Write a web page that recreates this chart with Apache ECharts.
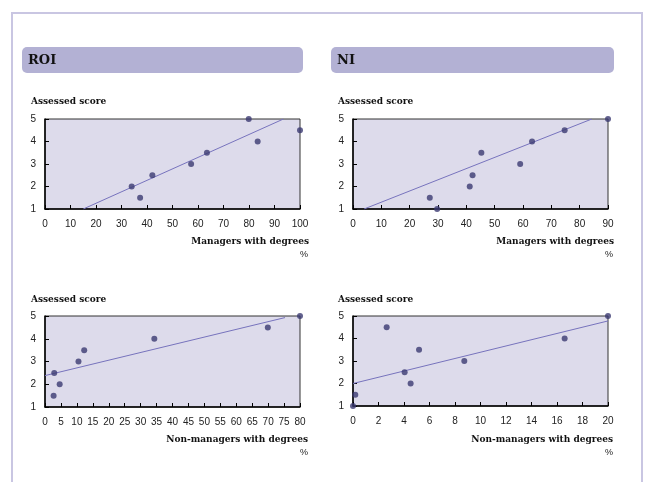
<!DOCTYPE html>
<html>
<head>
<meta charset="utf-8">
<script src="https://cdn.jsdelivr.net/npm/echarts@6/dist/echarts.min.js"></script>
<style>html,body{margin:0;padding:0;background:#fff}#c{width:649px;height:482px}</style>
</head>
<body>
<div id="c"></div>
<script>
// ---- Data ----
var roiMgrX = [34, 37.3, 42.1, 57.3, 63.5, 79.9, 83.4, 100];
var roiMgrY = [2, 1.5, 2.5, 3, 3.5, 5, 4, 4.5];
var roiMgrTrendX = [15, 93.5];
var roiMgrTrendY = [1, 5];

var niMgrX = [27.1, 29.7, 41.2, 42.2, 45.3, 59.0, 63.2, 74.7, 90];
var niMgrY = [1.5, 1, 2, 2.5, 3.5, 3, 4, 4.5, 5];
var niMgrTrendX = [3.9, 84.3];
var niMgrTrendY = [1, 5];

var roiNonX = [2.7, 2.9, 4.6, 10.5, 12.3, 34.3, 69.9, 80];
var roiNonY = [1.5, 2.5, 2, 3, 3.5, 4, 4.5, 5];
var roiNonTrendX = [0, 75.3];
var roiNonTrendY = [2.38, 4.93];

var niNonX = [0, 0.18, 2.64, 4.05, 4.52, 5.18, 8.73, 16.6, 20];
var niNonY = [1, 1.5, 4.5, 2.5, 2, 3.5, 3, 4, 5];
var niNonTrendX = [0, 20];
var niNonTrendY = [2.0, 4.78];

var panelTitles = ['ROI', 'NI'];
var yTitle = 'Assessed score';
var xTitles = ['Managers with degrees', 'Managers with degrees', 'Non-managers with degrees', 'Non-managers with degrees'];
var unitLabel = '%';
var xMax = [100, 90, 80, 20];
var xStep = [10, 10, 5, 2];
var yMin = 1, yMax = 5, yStep = 1;

function zip(a, b) { return a.map(function (v, i) { return [v, b[i]]; }); }

var panels = [
  { x: roiMgrX, y: roiMgrY, tx: roiMgrTrendX, ty: roiMgrTrendY },
  { x: niMgrX, y: niMgrY, tx: niMgrTrendX, ty: niMgrTrendY },
  { x: roiNonX, y: roiNonY, tx: roiNonTrendX, ty: roiNonTrendY },
  { x: niNonX, y: niNonY, tx: niNonTrendX, ty: niNonTrendY }
];

var gridPos = [
  { left: 45, top: 119, width: 255, height: 90 },
  { left: 353, top: 119, width: 255, height: 90 },
  { left: 45, top: 316, width: 255, height: 91 },
  { left: 353, top: 316, width: 255, height: 90 }
];

var serif = '"DejaVu Serif", serif';
var sans = '"Liberation Sans", Arial, sans-serif';

var grids = [], xAxes = [], yAxes = [], series = [];
gridPos.forEach(function (g, i) {
  grids.push({ left: g.left, top: g.top, width: g.width, height: g.height, show: true,
    backgroundColor: '#dddbeb', borderColor: '#333', borderWidth: 1, containLabel: false });
  xAxes.push({ type: 'value', gridIndex: i, min: 0, max: xMax[i], interval: xStep[i],
    axisLine: { show: true, onZero: false, lineStyle: { color: '#000', width: 1.5 } },
    axisTick: { show: true, inside: true, length: 4, lineStyle: { color: '#000' } },
    axisLabel: { color: '#222', fontFamily: sans, fontSize: 10, margin: 10 },
    splitLine: { show: false } });
  yAxes.push({ type: 'value', gridIndex: i, min: yMin, max: yMax, interval: yStep,
    axisLine: { show: true, onZero: false, lineStyle: { color: '#000', width: 1.5 } },
    axisTick: { show: true, inside: true, length: 4, lineStyle: { color: '#000' } },
    axisLabel: { color: '#222', fontFamily: sans, fontSize: 10, margin: 9 },
    splitLine: { show: false } });
  var p = panels[i];
  series.push({ type: 'line', xAxisIndex: i, yAxisIndex: i, data: zip(p.tx, p.ty),
    symbol: 'none', lineStyle: { color: '#7773bd', width: 1 }, silent: true, z: 2 });
  series.push({ type: 'scatter', xAxisIndex: i, yAxisIndex: i, data: zip(p.x, p.y),
    symbolSize: 6, clip: false, itemStyle: { color: '#3b3a72' }, z: 3 });
});

var graphics = [
  { type: 'rect', shape: { x: 12, y: 13, width: 630, height: 480 },
    style: { fill: 'none', stroke: '#c9c6e2', lineWidth: 2 }, silent: true },
  { type: 'rect', shape: { x: 22, y: 47, width: 281, height: 26, r: 5 },
    style: { fill: '#b3b1d4' }, silent: true },
  { type: 'rect', shape: { x: 331, y: 47, width: 283, height: 26, r: 5 },
    style: { fill: '#b3b1d4' }, silent: true },
  { type: 'text', x: 28, y: 61, style: { text: panelTitles[0], font: 'bold 13px ' + serif, fill: '#111', verticalAlign: 'middle' } },
  { type: 'text', x: 337, y: 61, style: { text: panelTitles[1], font: 'bold 13px ' + serif, fill: '#111', verticalAlign: 'middle' } }
];
var yTitlePos = [[31, 102], [338, 102], [31, 300], [338, 300]];
var xTitlePos = [[309, 242], [614, 242], [308, 440], [613, 440]];
var unitPos = [[308, 255], [613, 255], [308, 453], [613, 453]];
for (var i = 0; i < 4; i++) {
  graphics.push({ type: 'text', x: yTitlePos[i][0], y: yTitlePos[i][1],
    style: { text: yTitle, font: 'bold 9px ' + serif, fill: '#111', verticalAlign: 'middle' } });
  graphics.push({ type: 'text', x: xTitlePos[i][0], y: xTitlePos[i][1],
    style: { text: xTitles[i], font: 'bold 9px ' + serif, fill: '#111', align: 'right', verticalAlign: 'middle' } });
  graphics.push({ type: 'text', x: unitPos[i][0], y: unitPos[i][1],
    style: { text: unitLabel, font: '9px ' + sans, fill: '#222', align: 'right', verticalAlign: 'middle' } });
}

var chart = echarts.init(document.getElementById('c'), null, { renderer: 'canvas' });
chart.setOption({
  animation: false,
  backgroundColor: '#fff',
  grid: grids,
  xAxis: xAxes,
  yAxis: yAxes,
  series: series,
  graphic: graphics
});
</script>
</body>
</html>
